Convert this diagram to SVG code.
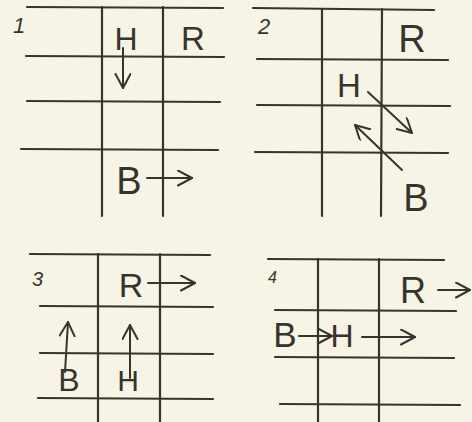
<svg xmlns="http://www.w3.org/2000/svg" width="472" height="422" viewBox="0 0 472 422">
<defs>
<style>
.bg{fill:#f7f4e5}
.g line{stroke:#35352f;stroke-width:2.2;stroke-linecap:round}
.t{font-family:"Liberation Sans","DejaVu Sans",sans-serif;fill:#35352f;text-anchor:middle}
.n{font-family:"Liberation Sans","DejaVu Sans",sans-serif;fill:#35352f;font-style:italic}
.c line{stroke:#35352f;stroke-width:2;stroke-linecap:round;marker-end:url(#ah)}
</style>
<marker id="ah" markerUnits="userSpaceOnUse" markerWidth="18" markerHeight="18" refX="15" refY="8" orient="auto" viewBox="0 0 18 18">
<path d="M1,0.5 L15,8 L1,15.5" fill="none" stroke="#35352f" stroke-width="2" stroke-linecap="round" stroke-linejoin="round"/>
</marker>
</defs>
<rect class="bg" x="0" y="0" width="472" height="422"/>

<g id="panel1" class="g">
<line x1="27" y1="7" x2="223" y2="8"/>
<line x1="26" y1="56" x2="224" y2="57"/>
<line x1="27" y1="101" x2="220" y2="102"/>
<line x1="21" y1="149" x2="218" y2="150"/>
<line x1="102" y1="7" x2="102" y2="216"/>
<line x1="163" y1="7" x2="163" y2="216"/>
<text class="n" x="13" y="33" font-size="22">1</text>
</g>
<g id="p1-H"><text class="t" x="126" y="50" font-size="32">H</text></g>
<g id="p1-R"><text class="t" x="193" y="50" font-size="33">R</text></g>
<g id="p1-B"><text class="t" x="129" y="194" font-size="38">B</text></g>

<g id="panel2" class="g">
<line x1="253" y1="8" x2="434" y2="10"/>
<line x1="257" y1="59" x2="448" y2="60"/>
<line x1="257" y1="105" x2="450" y2="106"/>
<line x1="255" y1="152" x2="448" y2="153"/>
<line x1="322" y1="9" x2="322" y2="216"/>
<line x1="382" y1="9" x2="381" y2="216"/>
<text class="n" x="258" y="34" font-size="22">2</text>
</g>
<g id="p2-R"><text class="t" x="412" y="52" font-size="38">R</text></g>
<g id="p2-H"><text class="t" x="349" y="97" font-size="33">H</text></g>
<g id="p2-B"><text class="t" x="416" y="211" font-size="38">B</text></g>

<g id="panel3" class="g">
<line x1="30" y1="254" x2="210" y2="255"/>
<line x1="40" y1="306" x2="213" y2="307"/>
<line x1="40" y1="353" x2="213" y2="354"/>
<line x1="38" y1="398" x2="213" y2="399"/>
<line x1="98" y1="254" x2="98" y2="422"/>
<line x1="160" y1="254" x2="160" y2="422"/>
<text class="n" x="32" y="286" font-size="20">3</text>
</g>
<g id="p3-R"><text class="t" x="131" y="297" font-size="34">R</text></g>
<g id="p3-B"><text class="t" x="69" y="391" font-size="32">B</text></g>
<g id="p3-H"><text class="t" x="128" y="391" font-size="30">H</text></g>

<g id="panel4" class="g">
<line x1="268" y1="259" x2="444" y2="260"/>
<line x1="275" y1="310" x2="456" y2="311"/>
<line x1="275" y1="357" x2="454" y2="358"/>
<line x1="280" y1="404" x2="460" y2="405"/>
<line x1="318" y1="259" x2="318" y2="422"/>
<line x1="379" y1="259" x2="379" y2="422"/>
<text class="n" x="268" y="283" font-size="16">4</text>
</g>
<g id="p4-R"><text class="t" x="413" y="303" font-size="36">R</text></g>
<g id="p4-B"><text class="t" x="285" y="347" font-size="35">B</text></g>
<g id="p4-H"><text class="t" x="342" y="347" font-size="32">H</text></g>

<g id="connectors" class="c">
<line x1="123" y1="48" x2="123" y2="88"/>
<line x1="147" y1="178" x2="192" y2="178"/>
<line x1="368" y1="92" x2="412" y2="133"/>
<line x1="402" y1="170" x2="355" y2="125"/>
<line x1="148" y1="283" x2="195" y2="283"/>
<line x1="65" y1="372" x2="68" y2="322"/>
<line x1="130" y1="378" x2="130" y2="325"/>
<line x1="438" y1="290" x2="470" y2="290"/>
<line x1="299" y1="336" x2="332" y2="336"/>
<line x1="362" y1="337" x2="415" y2="337"/>
</g>
</svg>
